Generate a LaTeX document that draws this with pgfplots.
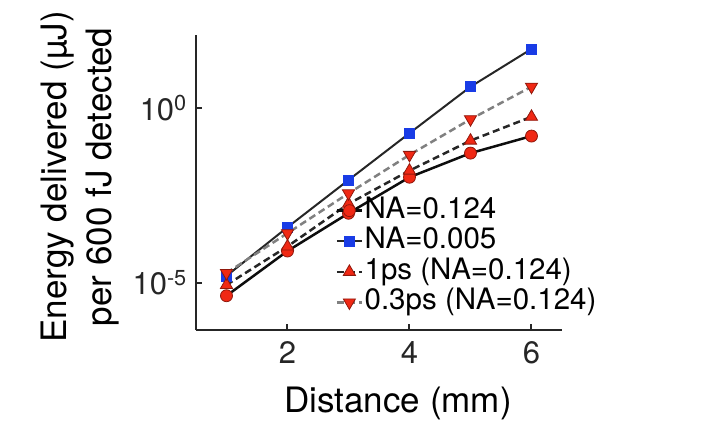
\documentclass[border=0pt]{standalone}
\usepackage{fontspec}
\setmainfont{TeX Gyre Heros}
\usepackage{pgfplots}
\pgfplotsset{compat=1.18}
\definecolor{mred}{RGB}{240,40,20}
\definecolor{mblue}{RGB}{25,60,230}
\definecolor{axc}{RGB}{38,38,38}
\begin{document}
\begin{tikzpicture}
\useasboundingbox (0,0) rectangle (709pt,428pt);
\begin{axis}[
  at={(196pt,98pt)}, anchor=south west,
  scale only axis, width=366pt, height=295pt,
  ymode=log,
  xmin=0.5, xmax=6.5,
  ymin=4.47e-7, ymax=123,
  axis lines=left,
  axis line style={-, line width=2.8pt, color=axc},
  tick align=inside,
  major tick length=6pt,
  tick style={line width=2pt, color=axc},
  minor tick num=0,
  xtick={2,4,6},
  xticklabels={2,4,6},
  ytick={1e-5,1},
  yticklabels={10\textsuperscript{-5},10\textsuperscript{0}},
  yminorticks=false,
  /pgf/number format/assume math mode=true,
  ticklabel style={font=\fontsize{31}{31}\selectfont, text=axc},
  xticklabel style={anchor=base, yshift=-33pt},
  yticklabel style={anchor=east, inner sep=0pt, xshift=-9pt},
  xlabel={Distance (mm)},
  xlabel style={font=\fontsize{35}{35}\selectfont, at={(axis description cs:0.552,-0.281)}, anchor=base},
  ylabel={Energy delivered (µJ)\\per 600 fJ detected},
  ylabel style={font=\fontsize{35}{45}\selectfont, align=center, at={(axis description cs:-0.317,0.519)}, anchor=center, rotate=0},
  legend cell align=left,
  legend style={draw=none, fill=none, inner sep=0pt,
    at={(axis description cs:0.381,0.451)}, anchor=north west,
    font=\fontsize{29.5}{29.5}\selectfont,
    nodes={inner xsep=1.5pt, inner ysep=0pt, text height=21pt, text depth=6pt},
    row sep=3.6pt},
  legend image code/.code={\draw[mark repeat=2,mark phase=2,#1] plot coordinates {(0pt,0pt)(12.5pt,0pt)(25pt,0pt)};},
]
\addplot[color=black!95, line width=2.5pt, mark=*, mark size=6pt, mark options={solid, fill=mred, draw=mred!60!black, line width=0.8pt}]
  coordinates {(1,4.27e-6) (2,8.13e-5) (3,9.77e-4) (4,1.05e-2) (5,5.13e-2) (6,0.158)};
\addlegendentry{NA=0.124}
\addplot[color=axc, line width=2pt, mark=square*, mark size=5pt, mark options={solid, fill=mblue, draw=mblue, line width=0.5pt}]
  coordinates {(1,1.58e-5) (2,3.89e-4) (3,8.71e-3) (4,0.191) (5,4.07) (6,49.0)};
\addlegendentry{NA=0.005}
\addplot[color=axc, line width=2.5pt, dash pattern=on 7pt off 4pt, mark=triangle*, mark size=7pt, mark options={solid, fill=mred, draw=mred!60!black, line width=0.8pt}]
  coordinates {(1,8.71e-6) (2,1.10e-4) (3,1.82e-3) (4,1.62e-2) (5,0.117) (6,0.562)};
\addlegendentry{1ps (NA=0.124)}
\addplot[color=gray, line width=2.5pt, dash pattern=on 7pt off 4pt, mark=triangle*, mark size=7pt, mark options={solid, rotate=180, fill=mred, draw=mred!60!black, line width=0.8pt}]
  coordinates {(1,1.91e-5) (2,2.63e-4) (3,3.63e-3) (4,4.57e-2) (5,0.479) (6,4.07)};
\addlegendentry{0.3ps (NA=0.124)}
\end{axis}
\end{tikzpicture}
\end{document}
